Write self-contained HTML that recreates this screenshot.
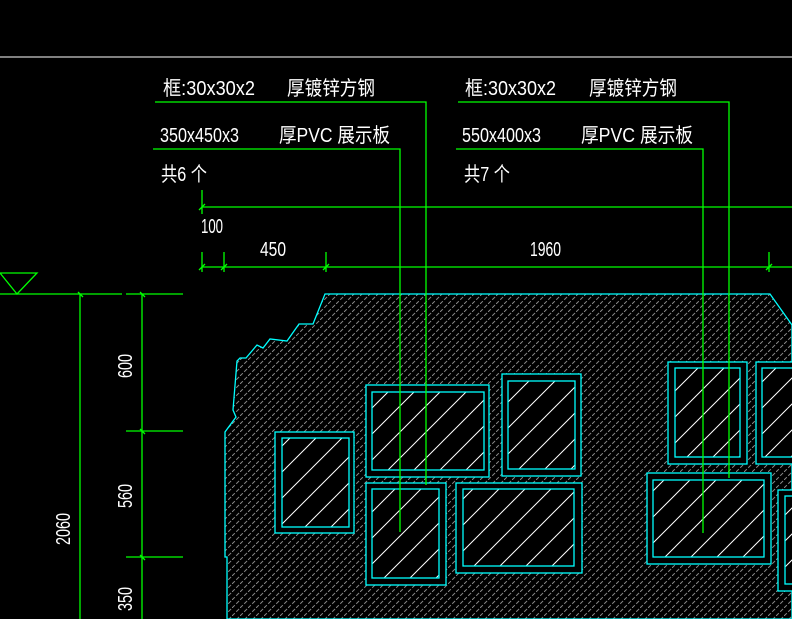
<!DOCTYPE html>
<html><head><meta charset="utf-8"><style>
html,body{margin:0;padding:0;background:#000;width:792px;height:619px;overflow:hidden}
svg{display:block}
text{font-family:"Liberation Sans","Noto Sans CJK SC",sans-serif;fill:#fff}
</style></head><body>
<svg width="792" height="619" viewBox="0 0 792 619" xmlns="http://www.w3.org/2000/svg">
<defs>
<pattern id="g" patternUnits="userSpaceOnUse" width="8" height="8">
<rect width="8" height="8" fill="#000"/>
<path d="M0 8 L8 0" stroke="#8a8a8a" stroke-width="1" stroke-dasharray="4 2"/>
</pattern>
<pattern id="w" patternUnits="userSpaceOnUse" width="26" height="26">
<rect width="26" height="26" fill="#000"/>
<path d="M0 26 L26 0 M-13 13 L13 -13 M13 39 L39 13" stroke="#fff" stroke-width="1"/>
</pattern>
</defs>
<line x1="0" y1="57" x2="792" y2="57" stroke="#fff" stroke-width="1"/>

<polygon points="325,294 770,294 792,325 792,619 227,619 227,557 225,557 225,432 236,417 233,410 237,361 240,358 246,358 257,345 263,348 270,339 287,341 299,324 313,324 325,294" fill="url(#g)" stroke="#0ff" stroke-width="1.3"/>

<g stroke="#0ff" stroke-width="1.3">
<rect x="275" y="432" width="79" height="101" fill="#000"/><rect x="282" y="438" width="67" height="89" fill="url(#w)"/>
<rect x="366" y="385" width="123" height="92" fill="#000"/><rect x="372" y="392" width="112" height="78" fill="url(#w)"/>
<rect x="502" y="374" width="79" height="102" fill="#000"/><rect x="508" y="381" width="67" height="88" fill="url(#w)"/>
<rect x="366" y="483" width="80" height="102" fill="#000"/><rect x="372" y="489" width="67" height="89" fill="url(#w)"/>
<rect x="456" y="483" width="126" height="90" fill="#000"/><rect x="463" y="489" width="111" height="77" fill="url(#w)"/>
<rect x="668" y="362" width="79" height="102" fill="#000"/><rect x="675" y="368" width="65" height="89" fill="url(#w)"/>
<rect x="756" y="362" width="50" height="102" fill="#000"/><rect x="762" y="368" width="40" height="89" fill="url(#w)"/>
<rect x="647" y="473" width="124" height="91" fill="#000"/><rect x="653" y="480" width="111" height="77" fill="url(#w)"/>
<rect x="778" y="490" width="30" height="101" fill="#000"/><rect x="785" y="496" width="20" height="88" fill="url(#w)"/>
</g>

<g stroke="#0f0" stroke-width="1.3" fill="none">
<polyline points="155,102 426,102 426,485"/>
<polyline points="153,149 400,149 400,532"/>
<polyline points="458,102 729,102 729,478"/>
<polyline points="456,149 703,149 703,533"/>
<line x1="202" y1="207" x2="792" y2="207"/>
<line x1="202" y1="190" x2="202" y2="214"/>
<line x1="202" y1="267" x2="792" y2="267"/>
<line x1="202" y1="252" x2="202" y2="272"/>
<line x1="224" y1="252" x2="224" y2="272"/>
<line x1="326" y1="252" x2="326" y2="272"/>
<line x1="769" y1="252" x2="769" y2="272"/>
<path d="M199 210 L205 204 M199 270 L205 264 M221 270 L227 264 M323 270 L329 264 M766 270 L772 264"/>
<line x1="0" y1="294" x2="122" y2="294"/>
<line x1="126" y1="294" x2="183" y2="294"/>
<polygon points="0,273 37,273 17,294"/>
<line x1="80" y1="294" x2="80" y2="619"/>
<line x1="142" y1="294" x2="142" y2="619"/>
<line x1="126" y1="431" x2="183" y2="431"/>
<line x1="126" y1="557" x2="183" y2="557"/>
<path d="M78 292 L83 297 M140 292 L145 297 M140 429 L145 434 M140 555 L145 560"/>
</g>

<g font-size="20">
<text x="163" y="95" textLength="92" lengthAdjust="spacingAndGlyphs">框:30x30x2</text>
<text x="287" y="95" textLength="88" lengthAdjust="spacingAndGlyphs">厚镀锌方钢</text>
<text x="160" y="142" textLength="79" lengthAdjust="spacingAndGlyphs">350x450x3</text>
<text x="279" y="142" textLength="111" lengthAdjust="spacingAndGlyphs">厚PVC 展示板</text>
<text x="161" y="181" textLength="46" lengthAdjust="spacingAndGlyphs">共6 个</text>
<text x="465" y="95" textLength="91" lengthAdjust="spacingAndGlyphs">框:30x30x2</text>
<text x="589" y="95" textLength="88" lengthAdjust="spacingAndGlyphs">厚镀锌方钢</text>
<text x="462" y="142" textLength="79" lengthAdjust="spacingAndGlyphs">550x400x3</text>
<text x="581" y="142" textLength="112" lengthAdjust="spacingAndGlyphs">厚PVC 展示板</text>
<text x="464" y="181" textLength="46" lengthAdjust="spacingAndGlyphs">共7 个</text>
<text x="201" y="233" textLength="22" lengthAdjust="spacingAndGlyphs">100</text>
<text x="260" y="256" textLength="26" lengthAdjust="spacingAndGlyphs">450</text>
<text x="530" y="256" textLength="31" lengthAdjust="spacingAndGlyphs">1960</text>
<text transform="translate(132,378) rotate(-90)" textLength="24" lengthAdjust="spacingAndGlyphs">600</text>
<text transform="translate(132,508) rotate(-90)" textLength="24" lengthAdjust="spacingAndGlyphs">560</text>
<text transform="translate(132,611) rotate(-90)" textLength="24" lengthAdjust="spacingAndGlyphs">350</text>
<text transform="translate(70,545) rotate(-90)" textLength="32" lengthAdjust="spacingAndGlyphs">2060</text>
</g>
</svg>
</body></html>
